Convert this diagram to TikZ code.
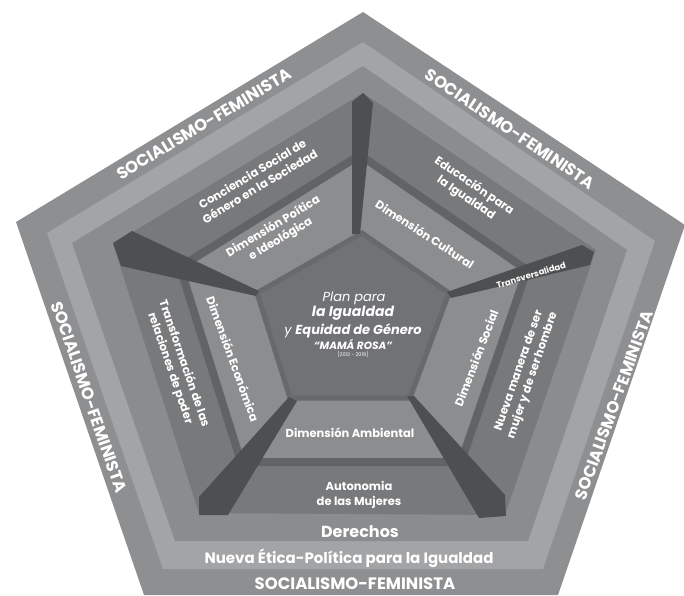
\documentclass[tikz,border=0pt]{standalone}
\usepackage{fontspec}
\setmainfont{Poppins}

\definecolor{ringout}{HTML}{8E8F91}
\definecolor{ringlight}{HTML}{A3A4A6}
\definecolor{ringmid}{HTML}{8B8C8E}
\definecolor{faceout}{HTML}{78797B}
\definecolor{facein}{HTML}{8C8D8F}
\definecolor{spokegray}{HTML}{4E4F51}
\definecolor{ledge}{HTML}{626365}
\definecolor{core}{HTML}{717275}

\begin{document}
\begin{tikzpicture}[
    x=1pt, y=-1pt,
    band/.style={fill=#1, draw=none},
    spokepart/.style={fill=spokegray, draw=none},
    ringlbl/.style={text=white, font=\bfseries\fontsize{16.5}{17}\selectfont, inner sep=0pt},
    facelbl/.style={text=white, align=center, inner sep=0pt, font=\bfseries\fontsize{11.5}{14.5}\selectfont},
    corelbl/.style={text=white, inner sep=0pt}
]
\useasboundingbox (0,0) rectangle (684,595);

% vertices of the rings
\coordinate (t0) at (363,12);  \coordinate (l0) at (16,222);  \coordinate (r0) at (685,225);
\coordinate (br0) at (558,595); \coordinate (bl0) at (144,595);
\coordinate (t1) at (363,42);  \coordinate (l1) at (47,233);  \coordinate (r1) at (655,241);
\coordinate (br1) at (543,569); \coordinate (bl1) at (163,569);
\coordinate (t2) at (363,66);  \coordinate (l2) at (72,243);  \coordinate (r2) at (627,250);
\coordinate (br2) at (528,541); \coordinate (bl2) at (175,541);
\coordinate (t3) at (363,93);  \coordinate (l3) at (113,244); \coordinate (r3) at (596,250);
\coordinate (br3) at (505,515); \coordinate (bl3) at (199,513);
% middle and central pentagon
\coordinate (t4) at (360,155); \coordinate (l4) at (180,267); \coordinate (r4) at (527,270);
\coordinate (br4) at (461,462); \coordinate (bl4) at (241,462);
\coordinate (tc) at (362,233); \coordinate (lc) at (257,293); \coordinate (rc) at (449,293);
\coordinate (brc) at (410,398); \coordinate (blc) at (290,398);

\begin{scope}
\clip (0,0) rectangle (684,595);
\fill[band=ringout] (t0) -- (r0) -- (br0) -- (bl0) -- (l0) -- cycle;
\fill[band=ringlight] (t1) -- (r1) -- (br1) -- (bl1) -- (l1) -- cycle;
\fill[band=ringmid] (t2) -- (r2) -- (br2) -- (bl2) -- (l2) -- cycle;
\fill[band=faceout] (t3) -- (r3) -- (br3) -- (bl3) -- (l3) -- cycle;
\filldraw[fill=facein, draw=ledge, line width=8pt, line join=miter] (t4) -- (r4) -- (br4) -- (bl4) -- (l4) -- cycle;
\filldraw[fill=core, draw=ledge!85!facein, line width=5pt] (tc) -- (rc) -- (brc) -- (blc) -- (lc) -- cycle;
\end{scope}

% spokes
\fill[spokepart] (363,93) -- (373,103) -- (360,234) -- (352,234) -- (352,102) -- cycle;
\fill[spokepart] (132,231) -- (113,243) -- (121,266) -- (256,296) -- (259,291) -- cycle;
\fill[spokepart] (582,245) -- (594,252) -- (590,265) -- (451,298) -- (447,292) -- cycle;
\fill[spokepart] (289,397) -- (297,401) -- (228,515) -- (199,515) -- (199,497) -- cycle;
\fill[spokepart] (407,396) -- (414,396) -- (505,495) -- (506,516) -- (479,518) -- cycle;

% outer ring texts
\node[ringlbl, rotate=31] (soc_tl) at (204,124) {SOCIALISMO-FEMINISTA};
\node[ringlbl, rotate=-34] (soc_tr) at (510,129) {SOCIALISMO-FEMINISTA};
\node[ringlbl, rotate=-71] (soc_l) at (89,397) {SOCIALISMO-FEMINISTA};
\node[ringlbl, rotate=70] (soc_r) at (614,405) {SOCIALISMO-FEMINISTA};
\node[ringlbl] (soc_b) at (355,584) {SOCIALISMO-FEMINISTA};
\node[ringlbl, font=\bfseries\fontsize{15}{16}\selectfont] (etica) at (349,558) {Nueva Ética-Política para la Igualdad};
\node[ringlbl, font=\bfseries\fontsize{16}{17}\selectfont] (derechos) at (360,532) {Derechos};

% faces
\node[facelbl, rotate=31] (conciencia) at (256,180) {Conciencia Social de\\Género en la Sociedad};
\node[facelbl, rotate=31] (politica) at (277,233) {Dimensión Poítica\\e Ideológica};
\node[facelbl, rotate=-34] (educacion) at (470,192) {Educación para\\la Igualdad};
\node[facelbl, rotate=-33] (cultural) at (425,234) {Dimensión Cultural};
\node[facelbl, rotate=71] (nueva) at (526,373) {Nueva manera de ser\\mujer y de ser hombre};
\node[facelbl, rotate=69] (social) at (476,358) {Dimensión Social};
\node[facelbl] (autonomia) at (359,495) {Autonomia\\de las Mujeres};
\node[facelbl] (ambiental) at (350,433) {Dimensión Ambiental};
\node[facelbl, rotate=-71] (transformacion) at (177,366) {Transformación de las\\relaciones de poder};
\node[facelbl, rotate=-70] (economica) at (233,359) {Dimensión Económica};
\node[facelbl, rotate=17, font=\bfseries\fontsize{8.5}{9}\selectfont] (transversal) at (531,275) {Transversalidad};

% center
\node[corelbl, font=\itshape\fontsize{13}{13}\selectfont] (plan) at (354,298) {Plan para};
\node[corelbl, font=\bfseries\itshape\fontsize{14}{14}\selectfont] (igualdad) at (353,313) {la Igualdad};
\node[corelbl, font=\fontsize{13}{13}\selectfont] (equidad) at (353,331) {\itshape y \bfseries Equidad de Género};
\node[corelbl, font=\bfseries\itshape\fontsize{10.5}{11}\selectfont] (mama) at (353,344) {“MAMÁ ROSA”};
\node[corelbl, font=\fontsize{5}{5}\selectfont] (years) at (353,355) {[2013 - 2019]};

\end{tikzpicture}
\end{document}
